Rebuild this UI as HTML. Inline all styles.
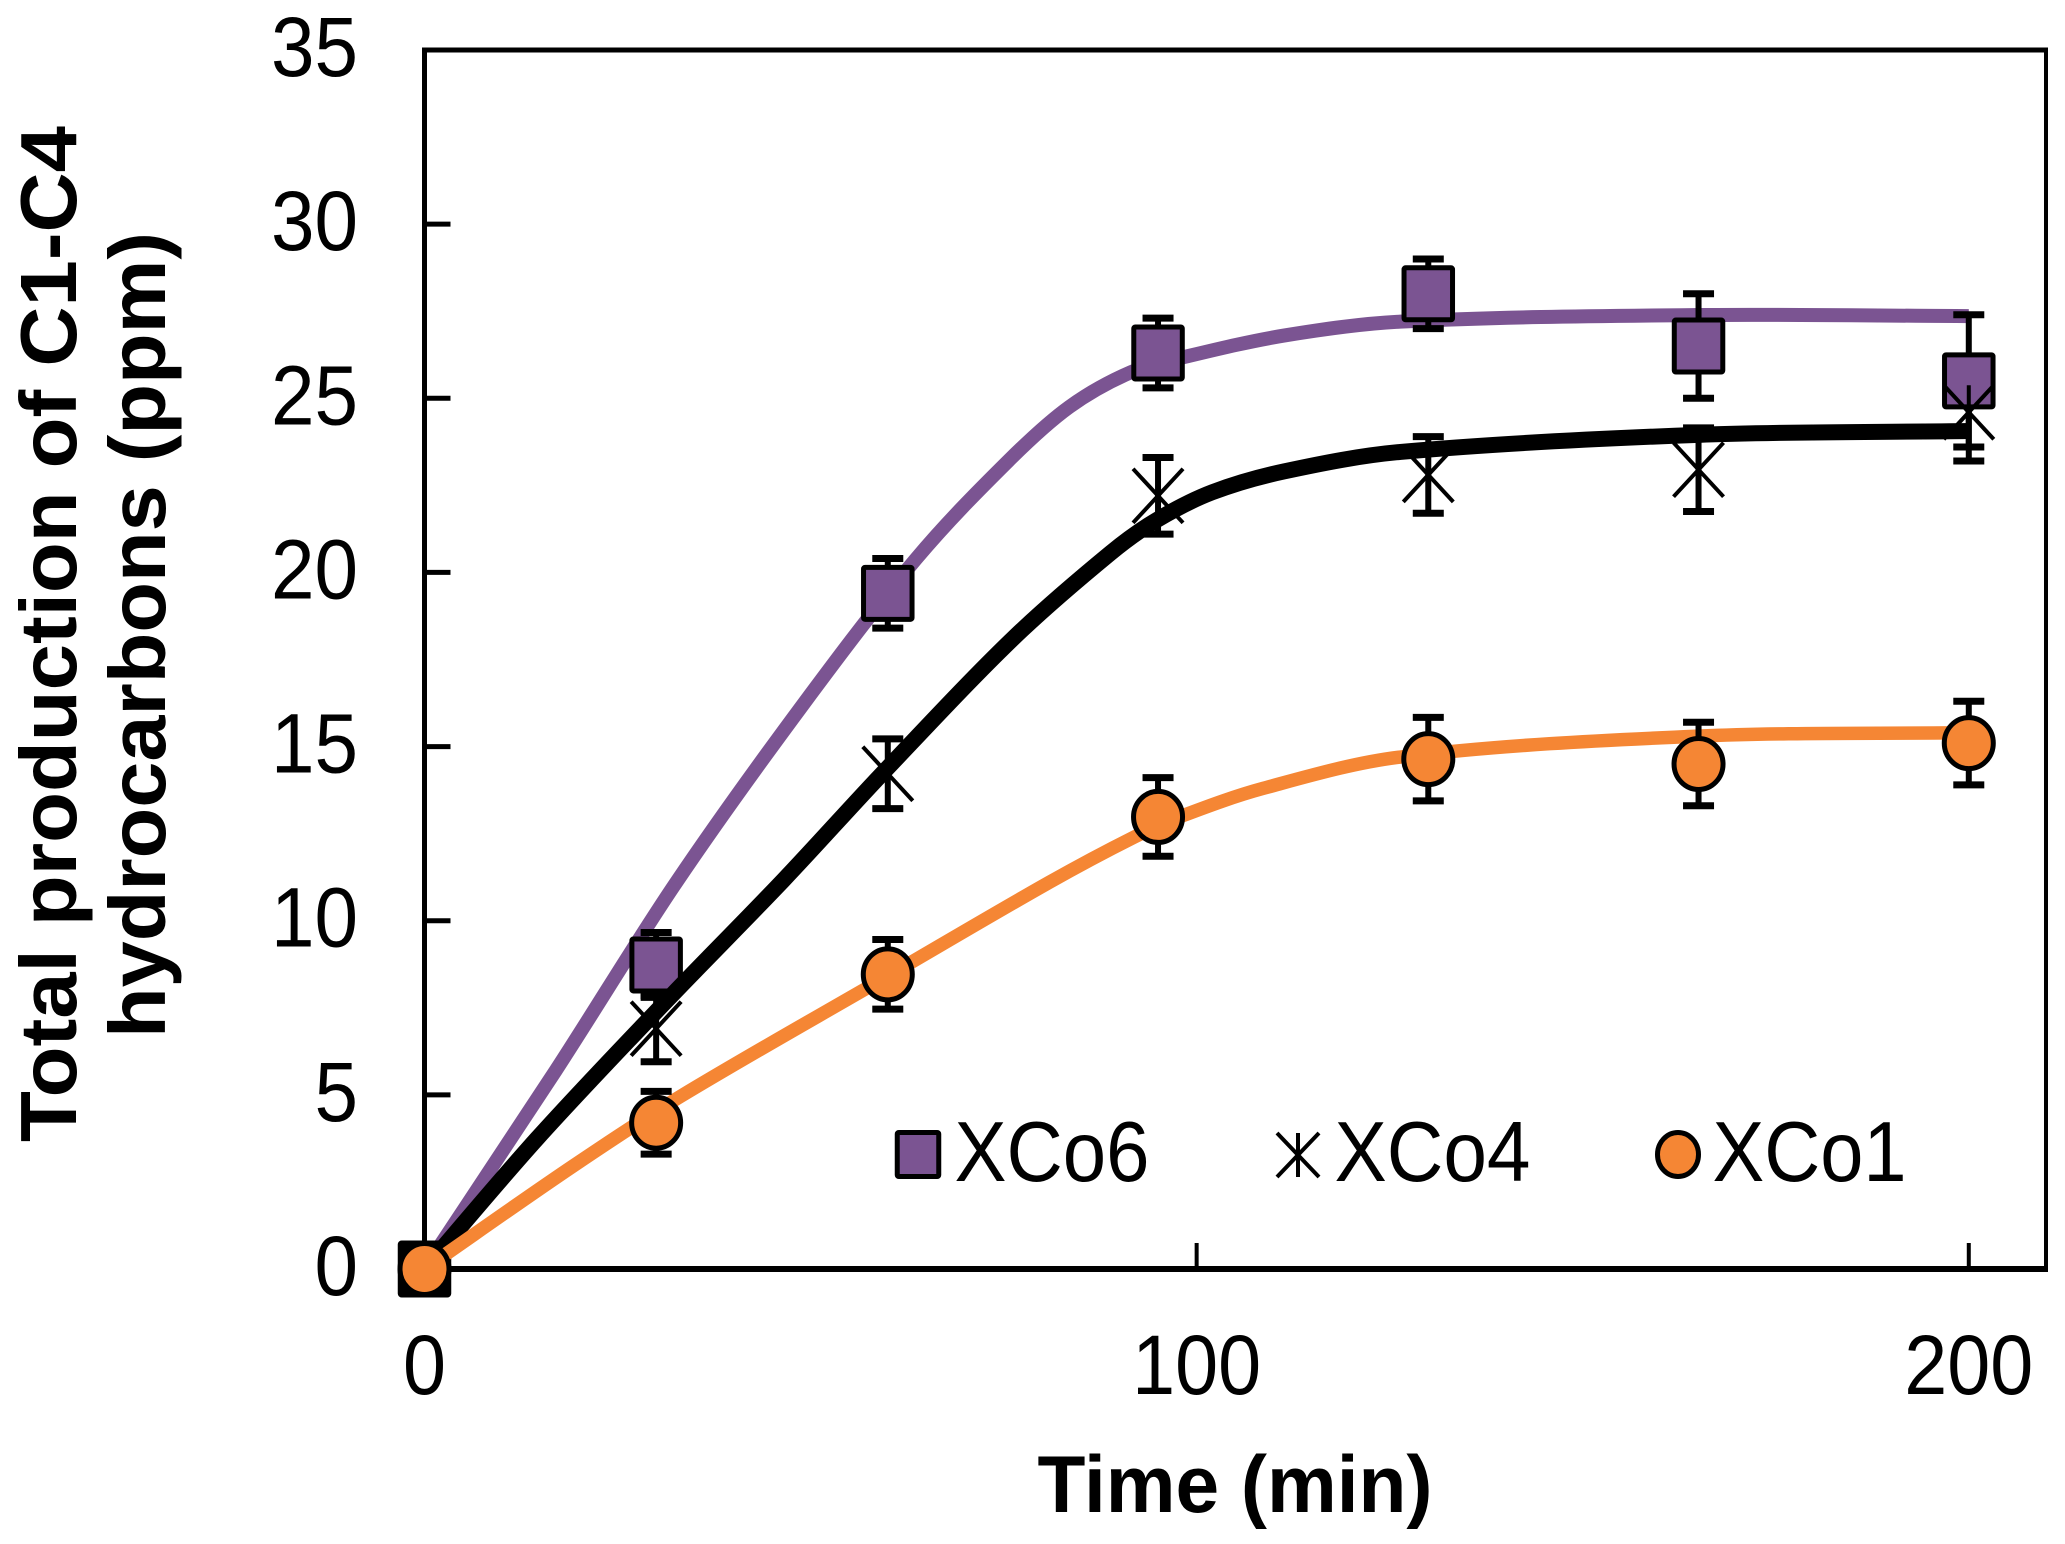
<!DOCTYPE html>
<html lang="en">
<head>
<meta charset="utf-8">
<title>Total production of C1-C4 hydrocarbons</title>
<style>
html,body{margin:0;padding:0;background:#fff;}
svg{display:block;}
text{font-family:"Liberation Sans",Arial,sans-serif;fill:#000;}
</style>
</head>
<body>
<svg id="chart" xmlns="http://www.w3.org/2000/svg" width="2065" height="1544" viewBox="0 0 2065 1544">
  <text transform="translate(76 634) rotate(-90)" text-anchor="middle" font-size="80" font-weight="bold" textLength="1016" lengthAdjust="spacingAndGlyphs">Total production of C1-C4</text>
  <text transform="translate(165 635) rotate(-90)" text-anchor="middle" font-size="80" font-weight="bold" textLength="806" lengthAdjust="spacingAndGlyphs">hydrocarbons (ppm)</text>
  <text x="1235" y="1512" text-anchor="middle" font-size="81" font-weight="bold" textLength="395" lengthAdjust="spacingAndGlyphs">Time (min)</text>
</svg>
<script>
// Data
const xTicks = [0, 100, 200];
const yTicks = [0, 5, 10, 15, 20, 25, 30, 35];
const times = [0, 30, 60, 95, 130, 165, 200];

const xco6Values = [0, 8.73, 19.4, 26.3, 28.0, 26.5, 25.5];
const xco6Errors = [0, 0.93, 1.0, 1.0, 1.0, 1.5, 1.9];
const xco4Values = [0, 6.9, 14.22, 22.2, 22.8, 22.95, 24.6];
const xco4Errors = [0, 0.95, 1.0, 1.1, 1.1, 1.2, 1.4];
const xco1Values = [0, 4.2, 8.46, 12.98, 14.64, 14.5, 15.1];
const xco1Errors = [0, 0.9, 1.0, 1.13, 1.2, 1.2, 1.2];

const xco6CurveTimes = [0, 17, 32.6, 49, 63.7, 75.6, 83.5, 91.5, 98.7, 111.3, 126.4, 165, 200];
const xco6CurveValues = [0, 5.7, 11.1, 16.2, 20.4, 23.2, 24.75, 25.75, 26.2, 26.8, 27.2, 27.39, 27.36];
const xco4CurveTimes = [0, 14.6, 31.2, 46.5, 59.6, 76.2, 88.8, 94.8, 102, 111.3, 126.4, 165, 200];
const xco4CurveValues = [0, 3.75, 7.67, 11.17, 14.3, 18.1, 20.55, 21.5, 22.3, 22.9, 23.46, 23.95, 24.06];
const xco1CurveTimes = [0, 19.2, 33.1, 59.9, 80.9, 91.9, 98, 108.6, 126.4, 165, 200];
const xco1CurveValues = [0, 2.95, 4.95, 8.4, 11.1, 12.4, 13.0, 13.8, 14.7, 15.3, 15.4];

const svg = document.getElementById('chart');
const NS = 'http://www.w3.org/2000/svg';
const PURPLE = '#7b5492';
const ORANGE = '#f58634';

// Axis functions
const xMin = 0, xMax = 210, yMin = 0, yMax = 35;
const plotLeft = 424.5, plotRight = 2046, plotTop = 50, plotBottom = 1269;
function xScale(v) { return plotLeft + (v - xMin) / (xMax - xMin) * (plotRight - plotLeft); }
function yScale(v) { return plotBottom - (v - yMin) / (yMax - yMin) * (plotBottom - plotTop); }

function make(tag, attrs, parent) {
  const node = document.createElementNS(NS, tag);
  for (const k in attrs) node.setAttribute(k, attrs[k]);
  (parent || svg).appendChild(node);
  return node;
}
function smoothPath(ts, vs) {
  const p = ts.map((t, i) => [xScale(t), yScale(vs[i])]);
  let d = 'M' + p[0][0] + ' ' + p[0][1];
  for (let i = 0; i < p.length - 1; i++) {
    const a = p[Math.max(i - 1, 0)], b = p[i], c = p[i + 1], e = p[Math.min(i + 2, p.length - 1)];
    const h = c[0] - b[0];
    const m1 = (c[1] - a[1]) / Math.max(c[0] - a[0], 1);
    const m2 = (e[1] - b[1]) / Math.max(e[0] - b[0], 1);
    d += 'C' + (b[0] + h / 3) + ' ' + (b[1] + m1 * h / 3) + ' ' + (c[0] - h / 3) + ' ' + (c[1] - m2 * h / 3) + ' ' + c[0] + ' ' + c[1];
  }
  return d;
}

// Frame
const frame = make('g', {});


const leftSpine = make('line', {x1: plotLeft, y1: plotTop - 2.5, x2: plotLeft, y2: plotBottom + 3, stroke: '#000', 'stroke-width': 5}, frame);


const topSpine = make('line', {x1: plotLeft, y1: plotTop, x2: plotRight + 2, y2: plotTop, stroke: '#000', 'stroke-width': 5}, frame);


const rightSpine = make('line', {x1: plotRight, y1: plotTop - 2.5, x2: plotRight, y2: plotBottom + 3, stroke: '#000', 'stroke-width': 4}, frame);


const bottomSpine = make('line', {x1: plotLeft, y1: plotBottom, x2: plotRight + 2, y2: plotBottom, stroke: '#000', 'stroke-width': 6}, frame);



// Ticks and tick labels
yTicks.forEach(function (v) {
  if (v !== yMin && v !== yMax) {
    const tick = make('line', {x1: plotLeft, y1: yScale(v), x2: plotLeft + 26, y2: yScale(v), stroke: '#000', 'stroke-width': 5}, frame);
    
    
  }
  const label = make('text', {x: 358, y: yScale(v) + 26, 'text-anchor': 'end', 'font-size': 84}, frame);
  
  
  label.setAttribute('textLength', String(v).length * 43.5);
  label.setAttribute('lengthAdjust', 'spacingAndGlyphs');
  label.textContent = v;
});
xTicks.forEach(function (v) {
  if (v !== xMin) {
    const tick = make('line', {x1: xScale(v), y1: plotBottom - 26, x2: xScale(v), y2: plotBottom, stroke: '#000', 'stroke-width': 4}, frame);
    
    
  }
  const label = make('text', {x: xScale(v), y: 1394, 'text-anchor': 'middle', 'font-size': 84}, frame);
  
  
  label.setAttribute('textLength', String(v).length * 43);
  label.setAttribute('lengthAdjust', 'spacingAndGlyphs');
  label.textContent = v;
});

// Marks
function errorBars(values, errors, name) {
  const g = make('g', {stroke: '#000'});
  
  
  times.forEach(function (t, i) {
    const x = xScale(t), hi = yScale(values[i] + errors[i]), lo = yScale(values[i] - errors[i]);
    make('line', {x1: x, y1: hi, x2: x, y2: lo, 'stroke-width': 6}, g);
    make('line', {x1: x - 15.5, y1: hi, x2: x + 15.5, y2: hi, 'stroke-width': 7}, g);
    make('line', {x1: x - 15.5, y1: lo, x2: x + 15.5, y2: lo, 'stroke-width': 7}, g);
  });
}
function curve(ts, vs, color, width, name) {
  const line = make('path', {d: smoothPath(ts, vs), fill: 'none', stroke: color, 'stroke-width': width, 'stroke-linejoin': 'round'});
  
  
}
function drawSquare(cx, cy, w, h, fill, parent) {
  return make('rect', {x: cx - w / 2, y: cy - h / 2, width: w, height: h, rx: 1.5, fill: fill, stroke: '#000', 'stroke-width': 5}, parent);
}
function drawStar(cx, cy, w, h, sw, parent) {
  const g = make('g', {stroke: '#000', 'stroke-width': sw}, parent);
  make('line', {x1: cx - w, y1: cy - h, x2: cx + w, y2: cy + h}, g);
  make('line', {x1: cx - w, y1: cy + h, x2: cx + w, y2: cy - h}, g);
  make('line', {x1: cx, y1: cy - h, x2: cx, y2: cy + h}, g);
  return g;
}
function drawCircle(cx, cy, rx, ry, parent) {
  return make('ellipse', {cx: cx, cy: cy, rx: rx, ry: ry, fill: ORANGE, stroke: '#000', 'stroke-width': 5}, parent);
}

errorBars(xco4Values, xco4Errors, 'xco4');

curve(xco6CurveTimes, xco6CurveValues, PURPLE, 14, 'xco6-curve');
errorBars(xco6Values, xco6Errors, 'xco6');
const xco6Marks = make('g', {});


times.forEach(function (t, i) {
  drawSquare(xScale(t), yScale(xco6Values[i]), 48.5, 52, t === 0 ? '#000' : PURPLE, xco6Marks);
});

const xco4Marks = make('g', {});


times.forEach(function (t, i) {
  drawStar(xScale(t), yScale(xco4Values[i]), 25, 27, 4, xco4Marks);
});
curve(xco4CurveTimes, xco4CurveValues, '#000', 16, 'xco4-curve');

curve(xco1CurveTimes, xco1CurveValues, ORANGE, 13.5, 'xco1-curve');
errorBars(xco1Values, xco1Errors, 'xco1');
const xco1Marks = make('g', {});


times.forEach(function (t, i) {
  drawCircle(xScale(t), yScale(xco1Values[i]), 24.5, 25.5, xco1Marks);
});

// Legend
const legend = make('g', {});


const legendEntry6 = make('g', {}, legend);


drawSquare(918, 1154.5, 41.5, 44, PURPLE, legendEntry6);
const legendEntry4 = make('g', {}, legend);


drawStar(1298, 1155, 21, 22, 4, legendEntry4);
const legendEntry1 = make('g', {}, legend);


drawCircle(1678, 1154.5, 20.5, 22, legendEntry1);
const legendLabel6 = make('text', {x: 954.5, y: 1181, 'font-size': 85, textLength: 195, lengthAdjust: 'spacingAndGlyphs'}, legendEntry6);


legendLabel6.textContent = 'XCo6';
const legendLabel4 = make('text', {x: 1334.5, y: 1181, 'font-size': 85, textLength: 196, lengthAdjust: 'spacingAndGlyphs'}, legendEntry4);


legendLabel4.textContent = 'XCo4';
const legendLabel1 = make('text', {x: 1712.5, y: 1181, 'font-size': 85, textLength: 194, lengthAdjust: 'spacingAndGlyphs'}, legendEntry1);


legendLabel1.textContent = 'XCo1';
</script>
</body>
</html>
